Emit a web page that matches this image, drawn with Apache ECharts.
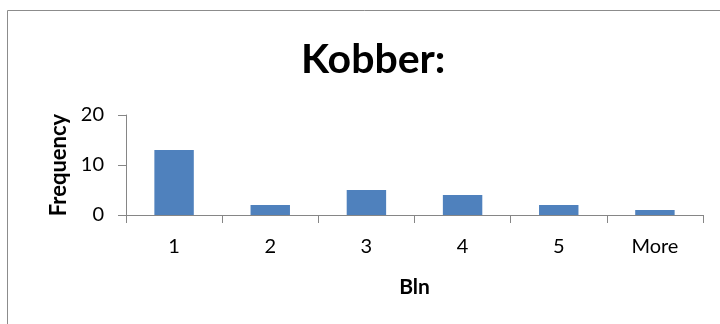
<!DOCTYPE html>
<html>
<head>
<meta charset="utf-8">
<script src="https://cdn.jsdelivr.net/npm/echarts@6/dist/echarts.min.js"></script>
<style>
    html, body { margin: 0; padding: 0; background: #fff; }
    #chart { width: 720px; height: 324px; }
</style>
</head>
<body>
<div id="chart"></div>
<script>
    // histogram bins and counts
    var bins = ['1', '2', '3', '4', '5', 'More'];
    var frequency = [13, 2, 5, 4, 2, 1];

    var axisGrey = '#868686';
    var fontFam = 'Lato, "Open Sans", sans-serif';

    var option = {
        animation: false,
        backgroundColor: '#fff',
        title: {
            text: 'Kobber:',
            left: 296,
            top: 34,
            textStyle: {
                fontFamily: fontFam,
                fontSize: 41,
                fontWeight: 'bold',
                color: '#000'
            }
        },
        graphic: [{
            type: 'rect',
            shape: { x: 7.5, y: 10.5, width: 740, height: 340 },
            style: { fill: 'none', stroke: '#8c8c8c', lineWidth: 1 },
            silent: true
        }],
        grid: {
            left: 126,
            right: 17,
            top: 115,
            bottom: 109
        },
        xAxis: {
            type: 'category',
            data: bins,
            name: 'Bln',
            nameLocation: 'middle',
            nameGap: 62,
            nameTextStyle: {
                fontFamily: fontFam,
                fontSize: 21,
                fontWeight: 'bold',
                color: '#000'
            },
            axisLine: { lineStyle: { color: axisGrey } },
            axisTick: { show: true, length: 8, lineStyle: { color: axisGrey } },
            axisLabel: {
                margin: 22,
                fontFamily: fontFam,
                fontSize: 20,
                color: '#000'
            }
        },
        yAxis: {
            type: 'value',
            min: 0,
            max: 20,
            interval: 10,
            name: 'Frequency',
            nameLocation: 'middle',
            nameGap: 56,
            nameTextStyle: {
                fontFamily: fontFam,
                fontSize: 22,
                fontWeight: 'bold',
                color: '#000'
            },
            axisLine: { show: true, lineStyle: { color: axisGrey } },
            axisTick: { show: true, length: 8, lineStyle: { color: axisGrey } },
            splitLine: { show: false },
            axisLabel: {
                margin: 22,
                fontFamily: fontFam,
                fontSize: 20,
                color: '#000'
            }
        },
        series: [{
            name: 'Frequency',
            type: 'bar',
            data: frequency,
            barWidth: '41%',
            itemStyle: { color: '#4F81BD' }
        }]
    };

    var chart = echarts.init(document.getElementById('chart'));
    chart.setOption(option);
</script>
</body>
</html>
